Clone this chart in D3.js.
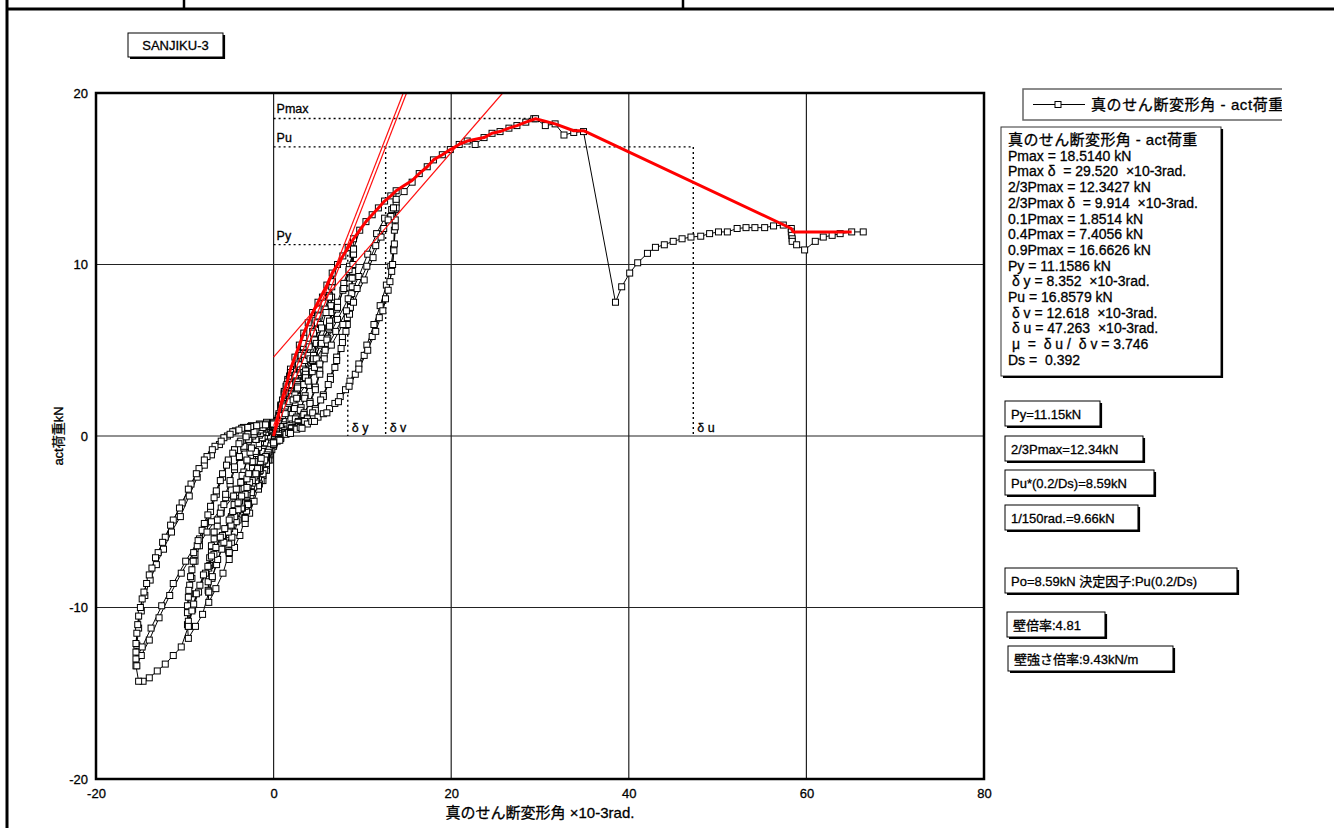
<!DOCTYPE html>
<html lang="ja">
<head>
<meta charset="UTF-8">
<title>SANJIKU-3 真のせん断変形角 - act荷重</title>
<style>
  body { margin: 0; background: #fff; }
  svg text {
    font-family: "Liberation Sans", Arial, "Noto Sans CJK JP", sans-serif;
    fill: #000;
    stroke: #000;
    stroke-width: 0.3px;
    white-space: pre;
  }
  .tick text { font-size: 13px; }
  .grid line { stroke: #222; stroke-width: 1.2px; }
  .dotted { stroke: #000; stroke-width: 1.4px; stroke-dasharray: 2 3; fill: none; }
</style>
</head>
<body>
<svg width="1334" height="828"></svg>

<script src="https://d3js.org/d3.v7.min.js"></script>
<script>
// axis ticks
const xTicks = [-20, 0, 20, 40, 60, 80];
const yTicks = [-20, -10, 0, 10, 20];

// hysteresis: [shear angle x10-3rad, load kN]
const level1 = [
  [0,0.2],[0.4,0.9],[0.8,1.8],[1.2,2.6],[1.6,3.3],[1.9,3.9],
  [1.87,3.3],[1.8,2.6],[1.65,2.0],[1.45,1.4],[1.2,0.9],[0.9,0.5],[0.55,0.2],[0.2,-0.1],
  [0,-0.6],[-0.4,-1.4],[-0.8,-2.0],[-1.2,-2.6],[-1.7,-3.1],
  [-1.72,-2.7],[-1.68,-2.3],[-1.6,-1.9],[-1.48,-1.55],[-1.3,-1.15],[-1.1,-0.75],[-0.9,-0.4],[-0.7,-0.1],[-0.5,0.1],[-0.3,0.25],[0,0.3],
  [0.2,0.5],[0.4,0.9],[0.6,1.3],[0.8,1.7],[1.0,2.1],[1.2,2.5],[1.4,2.9],[1.6,3.2],[1.8,3.5],[1.9,3.7],
  [1.86,3.1],[1.75,2.3],[1.55,1.6],[1.3,1.0],[1.0,0.55],[0.65,0.25],[0.3,0.0],
  [0,-0.4],[-0.2,-0.8],[-0.4,-1.1],[-0.6,-1.4],[-0.8,-1.7],[-1.0,-2.0],[-1.2,-2.3],[-1.4,-2.6],[-1.6,-2.8],[-1.7,-2.9],
  [-1.7,-2.4],[-1.62,-1.9],[-1.45,-1.4],[-1.2,-0.9],[-0.9,-0.4],[-0.6,0.0],[-0.3,0.25],[0,0.3]
];
const level2 = [
  [0.3,0.6],[0.6,1.2],[0.9,1.8],[1.2,2.4],[1.5,3.0],[1.9,3.7],[2.4,4.6],[2.9,5.3],[3.4,6.0],
  [3.37,5.5],[3.33,4.8],[3.26,4.1],[3.13,3.6],[2.92,3.0],[2.69,2.4],[2.41,1.8],[2.1,1.26],[1.77,0.84],[1.43,0.54],[1.05,0.3],[0.68,0.12],[0.3,-0.05],
  [0,-0.4],[-0.4,-1.0],[-0.8,-1.6],[-1.2,-2.2],[-1.7,-2.9],[-2.2,-3.8],[-2.7,-4.5],[-3.2,-5.1],
  [-3.23,-4.75],[-3.2,-4.3],[-3.15,-4.0],[-3.07,-3.57],[-2.94,-3.16],[-2.78,-2.75],[-2.59,-2.35],[-2.37,-1.89],[-2.14,-1.48],[-1.92,-1.02],[-1.7,-0.66],[-1.47,-0.36],[-1.25,-0.15],[-1.02,0.0],[-0.8,0.2],[-0.5,0.35],[-0.25,0.45],[0,0.5],
  [0.34,0.74],[0.68,1.14],[1.02,1.54],[1.36,2.0],[1.7,2.45],[2.04,2.96],[2.38,3.53],[2.72,4.1],[2.99,4.67],[3.23,5.19],[3.4,5.7],
  [3.36,5.2],[3.3,4.5],[3.2,3.8],[3.0,3.1],[2.7,2.3],[2.35,1.6],[1.95,1.0],[1.5,0.55],[1.0,0.25],[0.5,0.05],[0.1,-0.15],
  [0,-0.4],[-0.32,-0.58],[-0.64,-0.91],[-0.96,-1.25],[-1.28,-1.63],[-1.6,-2.06],[-1.92,-2.5],[-2.24,-2.98],[-2.56,-3.46],[-2.82,-3.94],[-3.04,-4.37],[-3.2,-4.8],
  [-3.2,-4.1],[-3.1,-3.4],[-2.95,-2.8],[-2.7,-2.2],[-2.4,-1.5],[-2.05,-0.9],[-1.7,-0.45],[-1.3,-0.1],[-0.9,0.2],[-0.45,0.4],[0,0.5]
];
const level3 = [
  [0.35,0.75],[0.7,1.15],[1.05,1.55],[1.4,2.0],[1.75,2.5],[2.1,3.0],[2.45,3.55],[2.8,4.15],[3.1,4.7],[3.4,5.4],[3.9,6.6],[4.4,7.2],[5.0,7.8],
  [4.95,7.2],[4.9,6.2],[4.8,5.4],[4.6,4.7],[4.3,3.9],[3.95,3.1],[3.55,2.35],[3.1,1.65],[2.6,1.1],[2.1,0.7],[1.55,0.4],[1.0,0.15],[0.45,-0.1],
  [0,-0.45],[-0.5,-0.9],[-1.0,-1.4],[-1.5,-2.0],[-2.0,-2.6],[-2.5,-3.3],[-2.9,-4.0],[-3.2,-4.8],[-3.8,-5.8],[-4.4,-6.5],[-5.0,-7.2],
  [-5.05,-6.7],[-5.0,-6.1],[-4.93,-5.6],[-4.8,-5.0],[-4.6,-4.5],[-4.35,-3.9],[-4.05,-3.3],[-3.7,-2.7],[-3.35,-2.1],[-3.0,-1.45],[-2.65,-0.95],[-2.3,-0.5],[-1.95,-0.2],[-1.6,0.05],[-1.2,0.25],[-0.8,0.45],[-0.4,0.55],[0,0.6],
  [0.5,1.0],[1.0,1.5],[1.5,2.0],[2.0,2.6],[2.5,3.2],[3.0,3.85],[3.5,4.6],[4.0,5.35],[4.4,6.1],[4.75,6.75],[5.0,7.4],
  [4.93,6.6],[4.85,5.6],[4.65,4.6],[4.35,3.75],[3.95,2.95],[3.5,2.2],[3.0,1.5],[2.45,1.0],[1.85,0.6],[1.25,0.3],[0.6,0.05],[0.1,-0.2],
  [0,-0.4],[-0.5,-0.8],[-1.0,-1.3],[-1.5,-1.8],[-2.0,-2.3],[-2.5,-2.9],[-3.0,-3.5],[-3.5,-4.2],[-4.0,-4.9],[-4.4,-5.6],[-4.75,-6.2],[-5.0,-6.8],
  [-5.05,-6.3],[-4.95,-5.4],[-4.75,-4.7],[-4.45,-4.0],[-4.0,-3.1],[-3.55,-2.3],[-3.0,-1.4],[-2.5,-0.7],[-2.0,-0.2],[-1.5,0.15],[-1.0,0.4],[-0.5,0.55],[0,0.6]
];
const level4 = [
  [0.5,0.9],[1.0,1.4],[1.5,1.9],[2.0,2.5],[2.5,3.1],[3.0,3.7],[3.5,4.4],[4.0,5.2],[4.5,6.0],[5.0,7.0],[5.5,8.1],[6.0,8.8],[6.6,9.5],
  [6.55,8.7],[6.45,7.6],[6.35,6.6],[6.1,5.7],[5.7,4.75],[5.2,3.8],[4.7,2.85],[4.1,2.0],[3.45,1.35],[2.8,0.85],[2.05,0.5],[1.3,0.2],[0.6,-0.1],
  [0,-0.45],[-0.6,-0.95],[-1.2,-1.5],[-1.8,-2.1],[-2.4,-2.75],[-3.0,-3.4],[-3.6,-4.2],[-4.2,-5.0],[-4.7,-5.9],[-5.0,-6.8],[-5.7,-8.0],[-6.5,-8.9],[-7.3,-9.7],
  [-7.37,-9.0],[-7.3,-8.25],[-7.2,-7.55],[-7.0,-6.8],[-6.7,-6.0],[-6.35,-5.25],[-5.9,-4.45],[-5.4,-3.6],[-4.9,-2.8],[-4.4,-1.95],[-3.85,-1.25],[-3.35,-0.7],[-2.85,-0.3],[-2.35,0.0],[-1.8,0.25],[-1.2,0.45],[-0.6,0.6],[0,0.7],
  [0.66,1.2],[1.32,1.8],[1.98,2.45],[2.64,3.15],[3.3,3.9],[3.96,4.7],[4.62,5.6],[5.28,6.5],[5.8,7.4],[6.27,8.2],[6.6,9.0],
  [6.53,8.1],[6.45,7.2],[6.3,6.2],[6.05,5.4],[5.7,4.5],[5.2,3.6],[4.7,2.7],[4.1,1.9],[3.4,1.25],[2.75,0.8],[2.0,0.45],[1.3,0.2],[0.6,-0.1],[0.1,-0.3],
  [0,-0.4],[-0.73,-1.1],[-1.46,-1.7],[-2.19,-2.4],[-2.92,-3.1],[-3.65,-3.9],[-4.38,-4.7],[-5.11,-5.6],[-5.84,-6.6],[-6.42,-7.5],[-6.94,-8.3],[-7.3,-9.1],
  [-7.37,-8.5],[-7.3,-7.7],[-7.2,-7.1],[-7.0,-6.4],[-6.7,-5.6],[-6.35,-4.9],[-5.9,-4.2],[-5.4,-3.4],[-4.9,-2.6],[-4.4,-1.8],[-3.85,-1.2],[-3.35,-0.6],[-2.8,-0.2],[-2.2,0.1],[-1.5,0.35],[-0.8,0.55],[0,0.7]
];
const level5 = [
  [0.6,1.1],[1.3,1.7],[2.0,2.3],[2.7,3.0],[3.4,3.7],[4.1,4.5],[4.8,5.4],[5.4,6.3],[5.9,7.2],[6.3,8.1],[6.6,9.0],[7.2,10.0],[7.8,10.5],[8.4,11.0],[9.0,11.5],
  [8.93,10.6],[8.85,9.2],[8.65,7.9],[8.3,6.9],[7.75,5.75],[7.1,4.6],[6.4,3.45],[5.6,2.4],[4.7,1.6],[3.8,1.05],[2.8,0.6],[1.8,0.25],[0.8,-0.1],
  [0,-0.5],[-0.8,-1.2],[-1.6,-1.9],[-2.4,-2.6],[-3.2,-3.4],[-4.0,-4.3],[-4.8,-5.2],[-5.6,-6.2],[-6.3,-7.2],[-6.9,-8.2],[-7.3,-9.1],[-8.0,-10.4],[-8.8,-11.1],[-9.6,-11.8],
  [-9.7,-11.0],[-9.6,-10.0],[-9.45,-9.2],[-9.2,-8.3],[-8.85,-7.3],[-8.35,-6.4],[-7.8,-5.4],[-7.1,-4.4],[-6.45,-3.4],[-5.75,-2.4],[-5.1,-1.5],[-4.4,-0.8],[-3.75,-0.35],[-3.1,0.0],[-2.4,0.3],[-1.6,0.5],[-0.8,0.65],[0,0.75],
  [0.9,1.3],[1.8,2.1],[2.7,2.9],[3.6,3.8],[4.5,4.7],[5.4,5.7],[6.3,6.7],[7.2,7.8],[7.9,8.9],[8.55,9.9],[9.0,10.9],
  [8.93,10.0],[8.85,8.7],[8.65,7.5],[8.3,6.5],[7.75,5.45],[7.1,4.4],[6.4,3.3],[5.6,2.3],[4.7,1.5],[3.8,1.0],[2.8,0.55],[1.8,0.2],[0.8,-0.15],[0.1,-0.35],
  [0,-0.4],[-0.96,-1.3],[-1.92,-2.1],[-2.88,-2.9],[-3.84,-3.8],[-4.8,-4.8],[-5.76,-5.8],[-6.72,-6.9],[-7.68,-8.0],[-8.45,-9.1],[-9.12,-10.1],[-9.6,-11.1],
  [-9.7,-10.3],[-9.6,-9.4],[-9.45,-8.7],[-9.2,-7.8],[-8.85,-6.9],[-8.35,-6.0],[-7.8,-5.1],[-7.1,-4.1],[-6.45,-3.2],[-5.75,-2.2],[-5.1,-1.4],[-4.4,-0.8],[-3.7,-0.3],[-2.9,0.1],[-2.0,0.35],[-1.0,0.6],[0,0.75],
  [0.8,1.2],[1.7,1.9],[2.6,2.7],[3.5,3.5],[4.4,4.4],[5.3,5.3],[6.2,6.3],[7.1,7.4],[7.8,8.5],[8.5,9.6],[9.0,10.6],
  [8.9,9.6],[8.8,8.3],[8.55,7.1],[8.15,6.1],[7.6,5.1],[6.9,4.0],[6.15,3.0],[5.3,2.1],[4.4,1.35],[3.5,0.85],[2.5,0.45],[1.5,0.15],[0.6,-0.2],
  [0,-0.4],[-0.9,-1.2],[-1.8,-1.9],[-2.7,-2.7],[-3.6,-3.5],[-4.6,-4.4],[-5.5,-5.4],[-6.5,-6.5],[-7.4,-7.6],[-8.3,-8.7],[-9.0,-9.8],[-9.6,-10.8],
  [-9.7,-9.9],[-9.55,-9.0],[-9.35,-8.2],[-9.05,-7.3],[-8.6,-6.4],[-8.05,-5.5],[-7.4,-4.6],[-6.7,-3.6],[-6.0,-2.6],[-5.3,-1.7],[-4.6,-1.0],[-3.9,-0.45],[-3.1,-0.05],[-2.2,0.25],[-1.2,0.5],[0,0.7]
];
const level6 = [
  [0.9,1.2],[1.8,2.0],[2.7,2.8],[3.6,3.6],[4.5,4.5],[5.4,5.4],[6.3,6.4],[7.2,7.5],[7.9,8.6],[8.5,9.7],[9.0,10.9],[9.7,12.0],[10.4,12.5],[11.1,12.9],[11.8,13.3],[12.5,13.7],[13.2,14.0],[13.8,14.3],
  [13.7,13.2],[13.6,12.0],[13.5,10.9],[13.2,9.9],[12.7,8.8],[12.0,7.6],[11.3,6.5],[10.5,5.3],[9.6,4.2],[8.6,3.2],[7.5,2.3],[6.3,1.6],[5.0,1.1],[3.8,0.7],[2.6,0.4],[1.4,0.1],[0.4,-0.3],
  [0,-0.5],[-1.0,-1.4],[-2.0,-2.2],[-3.0,-3.0],[-4.0,-3.9],[-5.0,-4.9],[-6.0,-5.9],[-7.0,-7.0],[-7.9,-8.1],[-8.7,-9.2],[-9.2,-10.2],[-9.6,-11.1],[-10.4,-12.3],[-11.3,-12.8],[-12.2,-13.3],[-13.1,-13.7],[-14.0,-14.1],[-14.7,-14.3],[-15.2,-14.3],
  [-15.5,-13.4],[-15.4,-12.2],[-15.2,-11.2],[-14.9,-10.2],[-14.5,-9.3],[-13.9,-8.4],[-13.2,-7.5],[-12.4,-6.6],[-11.5,-5.6],[-10.5,-4.7],[-9.5,-3.5],[-8.6,-2.4],[-7.8,-1.7],[-7.0,-1.1],[-6.1,-0.5],[-5.2,0.0],[-4.3,0.3],[-3.4,0.5],[-2.5,0.6],[-1.6,0.7],[-0.8,0.8],[0,0.8],
  [1.2,1.4],[2.4,2.4],[3.6,3.4],[4.8,4.5],[6.0,5.6],[7.2,6.8],[8.4,8.0],[9.6,9.3],[10.6,10.6],[11.6,11.8],[12.5,12.7],[13.3,13.2],[13.8,13.6],
  [13.7,12.6],[13.6,11.2],[13.4,10.0],[13.1,9.0],[12.6,8.0],[11.9,6.9],[11.1,5.8],[10.2,4.7],[9.2,3.6],[8.1,2.7],[6.9,1.9],[5.6,1.3],[4.3,0.85],[3.0,0.5],[1.7,0.2],[0.6,-0.2],
  [0,-0.4],[-1.5,-1.5],[-3.0,-2.5],[-4.5,-3.5],[-6.0,-4.5],[-7.5,-5.6],[-9.0,-6.8],[-10.4,-8.0],[-11.7,-9.3],[-12.9,-10.6],[-14.0,-11.9],[-14.9,-12.8],[-15.4,-13.4],
  [-15.5,-12.6],[-15.4,-11.5],[-15.2,-10.5],[-14.8,-9.5],[-14.3,-8.6],[-13.7,-7.7],[-13.0,-6.8],[-12.2,-5.9],[-11.3,-4.9],[-10.3,-3.9],[-9.3,-2.8],[-8.4,-1.9],[-7.5,-1.2],[-6.6,-0.6],[-5.6,-0.1],[-4.6,0.25],[-3.6,0.45],[-2.6,0.55],[-1.6,0.65],[-0.8,0.7],[0,0.7],
  [1.0,1.2],[2.2,2.1],[3.4,3.0],[4.6,4.0],[5.8,5.0],[7.0,6.1],[8.2,7.3],[9.4,8.6],[10.5,9.9],[11.5,11.1],[12.4,12.1],[13.2,12.8],[13.8,13.3],
  [13.7,12.2],[13.55,10.8],[13.3,9.6],[12.9,8.5],[12.3,7.3],[11.5,6.1],[10.6,5.0],[9.6,3.9],[8.5,2.9],[7.3,2.0],[6.0,1.35],[4.6,0.85],[3.2,0.45],[1.9,0.15],[0.7,-0.25],
  [0,-0.4],[-1.4,-1.3],[-2.8,-2.2],[-4.2,-3.1],[-5.6,-4.0],[-7.0,-5.0],[-8.5,-6.1],[-9.9,-7.3],[-11.3,-8.6],[-12.6,-9.9],[-13.8,-11.2],[-14.8,-12.3],[-15.5,-13.0],
  [-15.5,-12.1],[-15.3,-11.0],[-15.0,-10.0],[-14.6,-9.1],[-14.0,-8.1],[-13.3,-7.1],[-12.5,-6.2],[-11.6,-5.2],[-10.6,-4.2],[-9.6,-3.1],[-8.7,-2.2],[-7.8,-1.4],[-6.9,-0.8],[-5.9,-0.3],[-4.9,0.1],[-3.9,0.35],[-2.9,0.5],[-1.9,0.6],[-0.9,0.65],[0,0.7]
];
const finalPush = [
  [1.3,1.3],[2.6,2.2],[3.9,3.2],[5.2,4.2],[6.5,5.3],[7.8,6.5],[9.0,7.8],[10.2,9.1],[11.2,10.4],[12.1,11.6],[12.9,12.6],[13.5,13.3],[13.8,13.8],
  [14.7,14.25],[15.6,14.8],[16.4,15.3],[17.3,15.7],[18.0,16.1],[19.0,16.4],[19.9,16.7],[20.9,17.0],[21.8,17.2],[22.7,17.0],[23.7,17.4],
  [24.6,17.65],[25.5,17.75],[26.5,17.95],[27.4,18.1],[28.4,18.3],[29.3,18.5],[29.5,18.5],[30.6,18.1],[31.7,18.2],[32.7,17.55],[33.8,17.7],[34.9,17.75],
  [38.5,7.8],[39.2,8.7],[40.1,9.5],[41.0,10.1],[42.1,10.65],[43.0,11.0],[44.0,11.15],[45.0,11.35],[46.0,11.5],[47.0,11.6],[48.1,11.65],[49.1,11.8],
  [50.1,11.9],[51.1,11.9],[52.2,12.1],[53.2,12.15],[54.2,12.15],[55.3,12.15],[56.3,12.25],[57.4,12.3],[58.3,12.1],[58.3,11.9],[58.35,11.7],[58.4,11.5],
  [58.4,11.35],[58.9,11.15],[59.8,10.85],[61.0,11.35],[61.9,11.6],[62.9,11.7],[63.8,11.8],[65.1,11.9],[66.4,11.9]
];

// evaluated skeleton curve (red)
const envelope = [
  [0,0],[0.4,0.9],[0.8,1.8],[1.2,2.6],[1.6,3.3],[1.9,3.9],[2.4,4.6],[2.9,5.3],[3.4,6.0],[3.9,6.6],[4.4,7.2],[5.0,7.8],
  [5.5,8.3],[6.0,8.8],[6.6,9.5],[7.2,10.0],[7.8,10.5],[8.4,11.0],[9.0,11.5],[9.7,12.0],[10.4,12.5],[11.1,12.9],[11.8,13.3],
  [12.5,13.7],[13.2,14.0],[13.8,14.3],[14.7,14.6],[15.6,14.9],[16.4,15.3],[17.3,15.7],[18.0,16.1],[19.0,16.4],[19.9,16.7],
  [20.9,17.0],[21.8,17.2],[23.7,17.4],[24.6,17.65],[25.5,17.75],[26.5,17.95],[27.4,18.1],[28.4,18.3],[29.5,18.5],[31.7,18.2],
  [33.8,17.8],[34.9,17.8],[58.3,12.1],[58.5,11.9],[65.1,11.9]
];
// straight evaluation lines (red, thin)
const stiffLine = [[0,0],[14.97,20]];
const lineI = [[0,0.6],[14.6,20]];
const lineII = [[0,4.6],[25.8,20]];

// evaluated values
const Pmax = 18.514, PmaxD = 29.52;
const Py = 11.1586, dy = 8.352;
const Pu = 16.8579, dv = 12.618, du = 47.263;

const legendText = "真のせん断変形角 - act荷重";
const infoLines = [
  "真のせん断変形角 - act荷重",
  "Pmax = 18.5140 kN",
  "Pmax δ  = 29.520  ×10-3rad.",
  "2/3Pmax = 12.3427 kN",
  "2/3Pmax δ  = 9.914  ×10-3rad.",
  "0.1Pmax = 1.8514 kN",
  "0.4Pmax = 7.4056 kN",
  "0.9Pmax = 16.6626 kN",
  "Py = 11.1586 kN",
  " δ y = 8.352  ×10-3rad.",
  "Pu = 16.8579 kN",
  " δ v = 12.618  ×10-3rad.",
  " δ u = 47.263  ×10-3rad.",
  " μ  =  δ u /  δ v = 3.746",
  "Ds =  0.392"
];
const noteTexts = [
  "Py=11.15kN",
  "2/3Pmax=12.34kN",
  "Pu*(0.2/Ds)=8.59kN",
  "1/150rad.=9.66kN",
  "Po=8.59kN 決定因子:Pu(0.2/Ds)",
  "壁倍率:4.81",
  "壁強さ倍率:9.43kN/m"
];

const svg = d3.select("svg");
const x = d3.scaleLinear().domain([-20, 80]).range([96, 984]);
const y = d3.scaleLinear().domain([-20, 20]).range([779, 93]);
const line = d3.line().x(d => x(d[0])).y(d => y(d[1]));

// page frame
svg.append("line").attr("x1", 6).attr("x2", 1334).attr("y1", 9).attr("y2", 9)
  .attr("stroke", "#000").attr("stroke-width", 3);
svg.append("line").attr("x1", 7).attr("x2", 7).attr("y1", 0).attr("y2", 828)
  .attr("stroke", "#000").attr("stroke-width", 3);
[184, 683].forEach(px => svg.append("line").attr("x1", px).attr("x2", px).attr("y1", 0).attr("y2", 9)
  .attr("stroke", "#000").attr("stroke-width", 2.5));

// box with a drop shadow on the right and bottom
function shadowBox(bx, by, bw, bh, opts = {}) {
  svg.append("rect").attr("x", bx).attr("y", by).attr("width", bw).attr("height", bh)
    .attr("fill", "#fff").attr("stroke", opts.stroke || "#000").attr("stroke-width", 1);
  svg.append("path")
    .attr("d", `M${bx + bw + 1},${by + 2}V${by + bh + 1}H${bx + 2}`)
    .attr("fill", "none").attr("stroke", "#000").attr("stroke-width", 2.2);
}

shadowBox(128, 33, 95, 24);
svg.append("text").attr("x", 175.5).attr("y", 50).attr("text-anchor", "middle")
  .style("font-size", "13px").text("SANJIKU-3");

// plot
const defs = svg.append("defs");
defs.append("clipPath").attr("id", "plotClip").append("rect")
  .attr("x", x(-20)).attr("y", y(20)).attr("width", x(80) - x(-20)).attr("height", y(-20) - y(20));

svg.append("g").attr("class", "grid")
  .selectAll("line.gx").data(xTicks.slice(1, -1)).join("line")
  .attr("x1", d => x(d)).attr("x2", d => x(d)).attr("y1", y(20)).attr("y2", y(-20));
svg.append("g").attr("class", "grid")
  .selectAll("line.gy").data(yTicks.slice(1, -1)).join("line")
  .attr("x1", x(-20)).attr("x2", x(80)).attr("y1", d => y(d)).attr("y2", d => y(d));

const xAxis = svg.append("g").attr("transform", `translate(0,${y(-20)})`)
  .call(d3.axisBottom(x).tickValues(xTicks).tickSize(0).tickPadding(10).tickFormat(d => String(d)));
const yAxis = svg.append("g").attr("transform", `translate(${x(-20)},0)`)
  .call(d3.axisLeft(y).tickValues(yTicks).tickSize(0).tickPadding(8).tickFormat(d => String(d)));
xAxis.select(".domain").remove();
yAxis.select(".domain").remove();
svg.selectAll(".tick text").attr("fill", "#000");

svg.append("text").attr("x", (x(-20) + x(80)) / 2).attr("y", 818).attr("text-anchor", "middle")
  .style("font-size", "15px").text("真のせん断変形角 ×10-3rad.");
svg.append("text").attr("transform", `translate(63,${y(0)}) rotate(-90)`).attr("text-anchor", "middle")
  .style("font-size", "13px").text("act荷重kN");

const plot = svg.append("g").attr("clip-path", "url(#plotClip)");

// dotted guides
const guides = [
  [[0, Pmax], [PmaxD, Pmax]],
  [[0, Pu], [du, Pu]], [[du, Pu], [du, 0]],
  [[0, Py], [dy, Py]], [[dy, Py], [dy, 0]],
  [[dv, Pu], [dv, 0]]
];
plot.selectAll("path.guide").data(guides).join("path")
  .attr("class", "dotted").attr("d", line);

const labelFont = "12.5px";
[["Pmax", Pmax], ["Pu", Pu], ["Py", Py]].forEach(([t, v]) => {
  svg.append("text").attr("x", x(0) + 3).attr("y", y(v) - 5).style("font-size", labelFont).text(t);
});
[["δ y", dy], ["δ v", dv], ["δ u", du]].forEach(([t, v]) => {
  svg.append("text").attr("x", x(v) + 4).attr("y", y(0) - 4).style("font-size", labelFont).text(t);
});

// hysteresis
const hyst = [].concat(level1, level2, level3, level4, level5, level6, finalPush);
plot.append("path").datum(hyst).attr("d", line)
  .attr("fill", "none").attr("stroke", "#000").attr("stroke-width", 1);
plot.selectAll("rect.pt").data(hyst).join("rect")
  .attr("class", "pt")
  .attr("x", d => x(d[0]) - 3).attr("y", d => y(d[1]) - 3)
  .attr("width", 6).attr("height", 6)
  .attr("fill", "#fff").attr("stroke", "#000").attr("stroke-width", 1);

// red evaluation lines
plot.selectAll("path.thin").data([stiffLine, lineI, lineII]).join("path")
  .attr("d", line).attr("fill", "none").attr("stroke", "#ff1010").attr("stroke-width", 1.2);
plot.append("path").datum(envelope).attr("d", line)
  .attr("fill", "none").attr("stroke", "#ff0000").attr("stroke-width", 3).attr("stroke-linejoin", "round");

// plot frame
svg.append("rect").attr("x", x(-20)).attr("y", y(20))
  .attr("width", x(80) - x(-20)).attr("height", y(-20) - y(20))
  .attr("fill", "none").attr("stroke", "#000").attr("stroke-width", 2.5);

// legend (clipped at the right)
defs.append("clipPath").attr("id", "legClip").append("rect")
  .attr("x", 1015).attr("y", 85).attr("width", 267).attr("height", 40);
const leg = svg.append("g").attr("clip-path", "url(#legClip)");
leg.append("rect").attr("x", 1023).attr("y", 89).attr("width", 300).attr("height", 31)
  .attr("fill", "#fff").attr("stroke", "#666").attr("stroke-width", 1.5);
leg.append("line").attr("x1", 1033).attr("x2", 1085).attr("y1", 104.5).attr("y2", 104.5)
  .attr("stroke", "#000").attr("stroke-width", 1);
leg.append("rect").attr("x", 1055).attr("y", 101.5).attr("width", 6).attr("height", 6)
  .attr("fill", "#fff").attr("stroke", "#000");
leg.append("text").attr("x", 1091).attr("y", 110).style("font-size", "15px")
  .style("letter-spacing", "0.6px").text(legendText);

// info box
shadowBox(1001, 127, 220, 249, { stroke: "#333" });
svg.append("g").selectAll("text").data(infoLines).join("text")
  .attr("x", 1008).attr("y", (d, i) => 145 + i * 15.7)
  .style("font-size", (d, i) => i === 0 ? "15px" : "14px")
  .style("letter-spacing", (d, i) => i === 0 ? "0.4px" : null)
  .text(d => d);

// note boxes
const noteLayout = [
  [1005, 401, 95], [1005, 436, 138], [1005, 470, 149], [1005, 505, 133],
  [1005, 568, 232], [1007, 612, 98], [1008, 646, 165]
];
noteTexts.forEach((t, i) => {
  const [bx, by, bw] = noteLayout[i];
  shadowBox(bx, by, bw, 25);
  svg.append("text").attr("x", bx + 6).attr("y", by + 17.5).style("font-size", "13px").text(t);
});
</script>
</body>
</html>
